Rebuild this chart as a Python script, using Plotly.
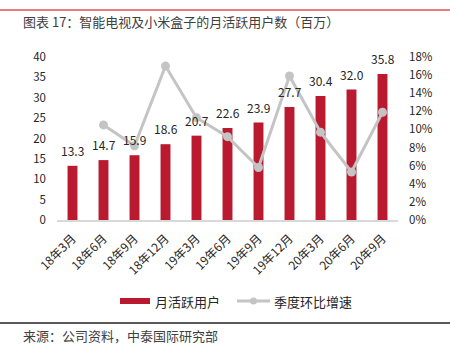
import plotly.graph_objects as go

categories = ["18年3月", "18年6月", "18年9月", "18年12月", "19年3月", "19年6月",
              "19年9月", "19年12月", "20年3月", "20年6月", "20年9月"]
mau = [13.3, 14.7, 15.9, 18.6, 20.7, 22.6, 23.9, 27.7, 30.4, 32.0, 35.8]
qoq = [None, 0.105, 0.082, 0.170, 0.113, 0.092, 0.058, 0.159, 0.097, 0.053, 0.119]
series_names = ["月活跃用户", "季度环比增速"]

FONT = "Noto Sans CJK SC, Noto Sans, sans-serif"
RED = "#BA1A2F"
GRAY = "#C4C4C4"
TXT = "#262626"

fig = go.Figure()
fig.add_trace(go.Bar(
    x=categories, y=mau, name=series_names[0], marker_color=RED, width=0.32,
    showlegend=False,
))
fig.add_trace(go.Scatter(
    x=categories, y=qoq, name=series_names[1], yaxis="y2", mode="lines+markers",
    line=dict(color=GRAY, width=3), marker=dict(color=GRAY, size=9),
    connectgaps=False, showlegend=False,
))

L, R, T, B = 57, 52, 57, 135
H = 355 - T - B
W = 450 - L - R

def py(p):
    return (355 - B - p) / H

def px(p):
    return (p - L) / W

annotations = [
    dict(text=f"{v:.1f}", x=c, y=v, xref="x", yref="y", yanchor="bottom",
         showarrow=False, yshift=5, font=dict(size=12, color=TXT))
    for c, v in zip(categories, mau)
]
annotations += [
    dict(text="图表 17：智能电视及小米盒子的月活跃用户数（百万）", xref="paper", yref="paper",
         x=px(21), y=py(22), xanchor="left", yanchor="middle", showarrow=False,
         font=dict(size=13, color="#404040")),
    dict(text="来源：公司资料，中泰国际研究部", xref="paper", yref="paper",
         x=px(21), y=py(335), xanchor="left", yanchor="middle", showarrow=False,
         font=dict(size=13, color="#404040")),
    dict(text=series_names[0], xref="paper", yref="paper",
         x=px(153), y=py(301), xanchor="left", yanchor="middle", showarrow=False,
         font=dict(size=13, color=TXT)),
    dict(text=series_names[1], xref="paper", yref="paper",
         x=px(272), y=py(301), xanchor="left", yanchor="middle", showarrow=False,
         font=dict(size=13, color=TXT)),
]

shapes = [
    dict(type="line", xref="paper", yref="paper", x0=px(0), x1=px(450),
         y0=py(10), y1=py(10), line=dict(color="#E25050", width=1.5)),
    dict(type="line", xref="paper", yref="paper", x0=px(0), x1=px(450),
         y0=py(323), y1=py(323), line=dict(color="#595959", width=2)),
    # legend keys
    dict(type="rect", xref="paper", yref="paper", x0=px(120), x1=px(150),
         y0=py(304), y1=py(298), fillcolor=RED, line=dict(width=0)),
    dict(type="line", xref="paper", yref="paper", x0=px(237), x1=px(270),
         y0=py(301), y1=py(301), line=dict(color=GRAY, width=3)),
    dict(type="circle", xref="paper", yref="paper", x0=px(250), x1=px(257),
         y0=py(304.5), y1=py(297.5), fillcolor=GRAY, line=dict(width=0)),
]

fig.update_layout(
    template="none",
    width=450, height=355, margin=dict(l=L, r=R, t=T, b=B, pad=0),
    paper_bgcolor="white", plot_bgcolor="white",
    font=dict(family=FONT, size=11, color=TXT),
    showlegend=False,
    xaxis=dict(tickangle=-45, showline=True, linecolor="#D9D9D9", linewidth=2,
               ticks="", tickfont=dict(size=12), automargin=False, showgrid=False,
               range=[-0.5, 10.5], ticklabelstandoff=5),
    yaxis=dict(range=[0, 40], dtick=5, showgrid=False, zeroline=False, showline=False,
               tickfont=dict(size=11.5), ticks="", automargin=False, ticklabelstandoff=10),
    yaxis2=dict(range=[0, 0.18], dtick=0.02, tickformat=".0%", overlaying="y",
                side="right", showgrid=False, zeroline=False, showline=False,
                tickfont=dict(size=11.5), ticks="", automargin=False, ticklabelstandoff=10),
    shapes=shapes,
    annotations=annotations,
)

fig.write_html("out.html", config={"displayModeBar": False},
               post_script="document.body.style.margin='0';")
